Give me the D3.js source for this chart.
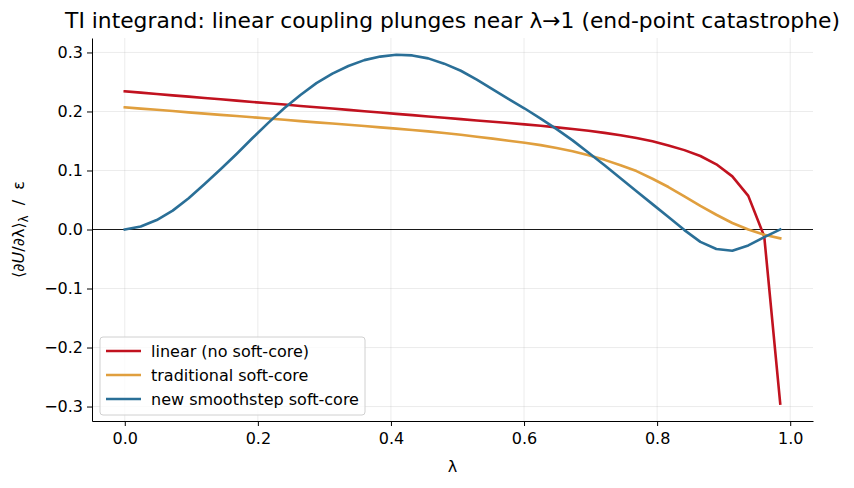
<!DOCTYPE html>
<html>
<head>
<meta charset="utf-8">
<script src="https://cdn.jsdelivr.net/npm/d3@7"></script>
<style>
  body { margin: 0; background: #fff; }
  svg { font-family: "DejaVu Sans", sans-serif; }
</style>
</head>
<body>
<div id="chart"></div>
<script>
// lambda grid
const lam = [0.000, 0.024, 0.048, 0.072, 0.096, 0.120, 0.144, 0.168, 0.192, 0.216,
  0.240, 0.264, 0.288, 0.312, 0.336, 0.360, 0.384, 0.408, 0.432, 0.456,
  0.480, 0.505, 0.529, 0.553, 0.577, 0.601, 0.625, 0.649, 0.673, 0.697,
  0.721, 0.745, 0.769, 0.793, 0.817, 0.841, 0.865, 0.889, 0.913, 0.937,
  0.961, 0.985];

const linear = [0.234, 0.232, 0.2295, 0.2273, 0.2251, 0.2228, 0.2206, 0.2184, 0.2161, 0.2139,
  0.2117, 0.2094, 0.2072, 0.2050, 0.2027, 0.2005, 0.1983, 0.1960, 0.1938, 0.1916,
  0.1893, 0.1871, 0.1848, 0.1826, 0.1804, 0.1781, 0.1757, 0.1731, 0.1703, 0.1672,
  0.1637, 0.1597, 0.1550, 0.1495, 0.1425, 0.1345, 0.1245, 0.1105, 0.0900, 0.0570,
  -0.0120, -0.2950];

const traditional = [0.207, 0.2049, 0.2028, 0.2007, 0.1985, 0.1964, 0.1943, 0.1922, 0.1901, 0.1880,
  0.1859, 0.1837, 0.1816, 0.1795, 0.1774, 0.1753, 0.1731, 0.1709, 0.1686, 0.1662,
  0.1636, 0.1605, 0.1572, 0.1540, 0.1505, 0.1470, 0.1430, 0.1380, 0.1325, 0.1260,
  0.1180, 0.1090, 0.0990, 0.0860, 0.0720, 0.0560, 0.0400, 0.0250, 0.0110, 0.0000,
  -0.0090, -0.0150];

const smoothstep = [0.000, 0.005, 0.016, 0.032, 0.053, 0.077, 0.102, 0.128, 0.155, 0.181,
  0.206, 0.228, 0.248, 0.264, 0.277, 0.287, 0.293, 0.296, 0.295, 0.290,
  0.281, 0.269, 0.254, 0.2375, 0.221, 0.205, 0.188, 0.170, 0.151, 0.130,
  0.109, 0.087, 0.065, 0.043, 0.021, -0.001, -0.021, -0.033, -0.036, -0.027,
  -0.013, 0.000];

const seriesNames = ["linear (no soft-core)", "traditional soft-core", "new smoothstep soft-core"];
const seriesColors = ["#c1121f", "#e09f3e", "#2a6f97"];
const xTicks = [0.0, 0.2, 0.4, 0.6, 0.8, 1.0];
const yTicks = [-0.3, -0.2, -0.1, 0.0, 0.1, 0.2, 0.3];

const W = 854, H = 488;
const m = { left: 92, right: 41, top: 38, bottom: 67 };
const iw = W - m.left - m.right, ih = H - m.top - m.bottom;

const svg = d3.select('#chart').append('svg')
  .attr('width', W).attr('height', H);

const x = d3.scaleLinear().domain([-0.04925, 1.03425]).range([0, iw]);
const y = d3.scaleLinear().domain([-0.3245, 0.3245]).range([ih, 0]);

const g = svg.append('g').attr('transform', `translate(${m.left},${m.top})`);

// grid
g.selectAll('.gx').data(xTicks).enter().append('line')
  .attr('x1', d => x(d)).attr('x2', d => x(d))
  .attr('y1', 0).attr('y2', ih)
  .attr('stroke', '#b0b0b0').attr('stroke-opacity', 0.3).attr('stroke-width', 0.8);
g.selectAll('.gy').data(yTicks).enter().append('line')
  .attr('x1', 0).attr('x2', iw)
  .attr('y1', d => y(d)).attr('y2', d => y(d))
  .attr('stroke', '#b0b0b0').attr('stroke-opacity', 0.3).attr('stroke-width', 0.8);

// zero line
g.append('line')
  .attr('x1', 0).attr('x2', iw)
  .attr('y1', y(0)).attr('y2', y(0))
  .attr('stroke', '#000').attr('stroke-width', 0.9);

// axes
const fmt = d => d3.format('.1f')(d).replace('-', '\u2212');
const xAxis = g.append('g').attr('transform', `translate(0,${ih})`)
  .call(d3.axisBottom(x).tickValues(xTicks).tickFormat(fmt).tickSize(5).tickSizeOuter(0).tickPadding(4));
const yAxis = g.append('g')
  .call(d3.axisLeft(y).tickValues(yTicks).tickFormat(fmt).tickSize(5).tickSizeOuter(0).tickPadding(4));
[xAxis, yAxis].forEach(a => {
  a.selectAll('text').attr('font-size', 16).attr('font-family', '"DejaVu Sans", sans-serif').attr('fill', '#000');
  a.select('.domain').attr('stroke', '#000').attr('stroke-width', 1);
  a.selectAll('.tick line').attr('stroke', '#000').attr('stroke-width', 1);
});
xAxis.selectAll('text').attr('dy', '0.9em');

// lines
const allSeries = [linear, traditional, smoothstep];
const line = d3.line().x((d, i) => x(lam[i])).y(d => y(d));
g.selectAll('.series').data(allSeries).enter().append('path')
  .attr('d', d => line(d))
  .attr('fill', 'none')
  .attr('stroke', (d, i) => seriesColors[i])
  .attr('stroke-width', 2.6)
  .attr('stroke-linejoin', 'round')
  .attr('stroke-linecap', 'square');

// title
svg.append('text')
  .attr('x', m.left + iw / 2).attr('y', 28)
  .attr('text-anchor', 'middle')
  .attr('font-size', 21.8)
  .text('TI integrand: linear coupling plunges near \u03bb\u21921 (end-point catastrophe)');

// x label
svg.append('text')
  .attr('x', m.left + iw / 2).attr('y', 472)
  .attr('text-anchor', 'middle')
  .attr('font-size', 16)
  .text('\u03bb');

// y label
const yl = svg.append('text')
  .attr('transform', `translate(24,${m.top + ih / 2}) rotate(-90)`)
  .attr('text-anchor', 'middle')
  .attr('font-size', 16);
yl.append('tspan').text('\u27e8\u2202');
yl.append('tspan').attr('font-style', 'italic').text('U');
yl.append('tspan').text('/\u2202\u03bb\u27e9');
yl.append('tspan').attr('font-size', 11.5).attr('dy', 4).text('\u03bb');
yl.append('tspan').attr('dy', -4).text('\u00a0\u00a0/\u00a0\u00a0\u03b5');

// legend
const lg = g.append('g').attr('transform', 'translate(8,299)');
lg.append('rect')
  .attr('width', 265).attr('height', 78)
  .attr('rx', 3)
  .attr('fill', '#fff').attr('fill-opacity', 0.8)
  .attr('stroke', '#d0d0d0').attr('stroke-width', 1);
seriesNames.forEach((name, i) => {
  const row = lg.append('g').attr('transform', `translate(0,${14 + i * 24})`);
  row.append('line')
    .attr('x1', 6).attr('x2', 41)
    .attr('stroke', seriesColors[i]).attr('stroke-width', 2.6);
  row.append('text')
    .attr('x', 51).attr('y', 5.5)
    .attr('font-size', 16)
    .text(name);
});
</script>
</body>
</html>
